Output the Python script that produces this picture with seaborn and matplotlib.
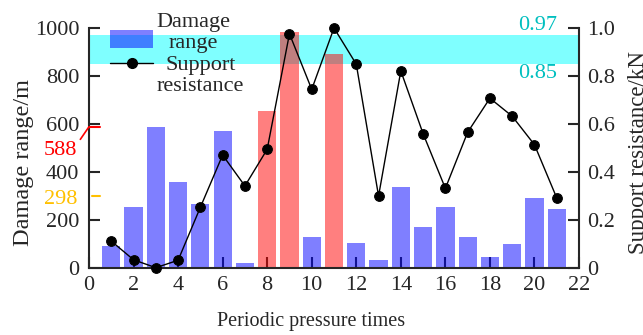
import glob
import matplotlib
matplotlib.use("Agg")
import matplotlib.pyplot as plt
from matplotlib import font_manager
import pandas as pd
import seaborn as sns
from matplotlib.patches import Patch, Rectangle
from matplotlib.lines import Line2D
from matplotlib.legend_handler import HandlerPatch, HandlerLine2D

# Periodic pressure events and the two measured series
times = list(range(1, 22))
damage_range = [90, 253, 588, 357, 267, 570, 20, 653, 982, 128, 891,
                103, 32, 336, 170, 253, 128, 45, 99, 291, 245]
support_resistance = [0.111, 0.033, 0.0, 0.031, 0.252, 0.470, 0.341, 0.494,
                      0.976, 0.744, 1.0, 0.849, 0.299, 0.821, 0.559, 0.331,
                      0.565, 0.707, 0.632, 0.513, 0.291]

# Reference levels
damage_limit = 588
damage_mark = 298
resist_band = [0.85, 0.97]

x_ticks = list(range(0, 23, 2))
left_ticks = [0, 200, 400, 600, 800, 1000]
right_ticks = [0, 0.2, 0.4, 0.6, 0.8, 1.0]
right_tick_labels = ["0", "0.2", "0.4", "0.6", "0.8", "1.0"]

# Make sure a Times-like serif face is registered
for path in glob.glob("/usr/share/fonts/**/LiberationSerif*.ttf", recursive=True):
    try:
        font_manager.fontManager.addfont(path)
    except Exception:
        pass
available = {f.name for f in font_manager.fontManager.ttflist}
serif = "Liberation Serif" if "Liberation Serif" in available else "DejaVu Serif"

sns.set_style("ticks")
plt.rcParams["font.family"] = [serif, "DejaVu Serif"]
FS = 16

fig, ax = plt.subplots(figsize=(6.43, 3.35), dpi=100)
fig.subplots_adjust(left=0.1384, right=0.9005, bottom=0.2009, top=0.9164)

left_max, right_max = 1000, 1.0
ratio = left_max / right_max

# Highlighted support-resistance band, drawn beneath the bars
ax.axhspan(resist_band[0] * ratio, resist_band[1] * ratio,
           color="cyan", alpha=0.5, lw=0, zorder=1)

df = pd.DataFrame({
    "time": times,
    "damage": damage_range,
    "level": ["high" if d > damage_limit else "normal" for d in damage_range],
})
sns.barplot(data=df, x="time", y="damage", hue="level",
            palette={"normal": "#0000FF", "high": "#FF0000"},
            saturation=1, alpha=0.5, native_scale=True, width=0.82,
            dodge=False, errorbar=None, legend=False, linewidth=0,
            zorder=2, ax=ax)

ax2 = ax.twinx()
sns.lineplot(x=times, y=support_resistance, ax=ax2, color="black",
             marker="o", markersize=7, markeredgecolor="black",
             linewidth=1.0, clip_on=False, zorder=3)

ax.set_xlim(0, 22)
ax.set_ylim(0, left_max)
ax2.set_ylim(0, right_max)
ax.set_xticks(x_ticks)
ax.set_xticklabels([str(t) for t in x_ticks])
ax.set_yticks(left_ticks)
ax.set_yticklabels([str(t) for t in left_ticks])
ax2.set_yticks(right_ticks)
ax2.set_yticklabels(right_tick_labels)

for a in (ax, ax2):
    a.spines["top"].set_visible(False)
ax.spines["right"].set_visible(False)
ax2.spines["left"].set_visible(False)
ax2.spines["bottom"].set_visible(False)
for s in ("left", "bottom"):
    ax.spines[s].set_linewidth(1.5)
ax2.spines["right"].set_linewidth(1.5)

ax.tick_params(axis="both", direction="in", length=8, width=1.5,
               labelsize=FS, top=False, right=False)
ax.tick_params(axis="y", pad=7)
ax.tick_params(axis="x", pad=6)
ax2.tick_params(axis="y", direction="in", length=8, width=1.5,
                labelsize=FS, pad=6)

ax.set_xlabel("Periodic pressure times", fontsize=14.5)
ax.xaxis.set_label_coords(0.453, -0.2265)
ax.xaxis.label.set_va("center")
ax.set_ylabel("Damage range/m", fontsize=17.5)
ax.yaxis.set_label_coords(-0.133, 0.44)
ax.yaxis.label.set_va("center")
ax2.set_ylabel("Support resistance/kN", fontsize=16.5)
ax2.yaxis.set_label_coords(1.122, 0.48)
ax2.yaxis.label.set_va("center")

# Damage range reference marks on the left axis
ax.axhline(damage_limit, xmin=0, xmax=0.022, color="red", lw=1.5, zorder=4)
ax.annotate(str(damage_limit), xy=(0, damage_limit), xytext=(-8.6, -17),
            textcoords="offset points", ha="right", va="center",
            color="red", fontsize=FS, annotation_clip=False,
            arrowprops=dict(arrowstyle="-", color="red", lw=1.2,
                            shrinkA=0, shrinkB=0, relpos=(0.95, 0.7)))
ax.axhline(damage_mark, xmin=0.006, xmax=0.022, color="#FFC000", lw=1.5,
           zorder=4)
ax.annotate(str(damage_mark), xy=(0, damage_mark), xytext=(-8.6, -2.3),
            textcoords="offset points", ha="right", va="center",
            color="#FFC000", fontsize=FS, annotation_clip=False)

# Band limits on the right axis
ax2.text(21.0, resist_band[1], f"{resist_band[1]:.2f}", ha="right",
         va="bottom", color="c", fontsize=FS)
ax2.text(21.0, resist_band[0], f"{resist_band[0]:.2f}", ha="right",
         va="top", color="c", fontsize=FS)


def lowered_patch(legend, orig_handle, xdescent, ydescent, width, height,
                  fontsize):
    # swatch sits beside the lower line of its two-line label
    return Rectangle(xy=(-xdescent, -ydescent - 0.32 * fontsize),
                     width=width, height=height)


class RaisedLine(HandlerLine2D):
    """Line handle aligned with the first line of a two-line label."""

    def create_artists(self, legend, orig_handle, xdescent, ydescent, width,
                       height, fontsize, trans):
        artists = super().create_artists(legend, orig_handle, xdescent,
                                         ydescent, width, height, fontsize,
                                         trans)
        for a in artists:
            a.set_ydata(a.get_ydata() + 0.55 * fontsize)
        return artists


handles = [Patch(facecolor="blue", alpha=0.5, edgecolor="none"),
           Line2D([], [], color="black", marker="o", markersize=7, lw=1.0)]
leg = ax2.legend(handles, ["Damage\nrange", "Support\nresistance"],
                 loc="upper left", bbox_to_anchor=(0.043, 1.064),
                 frameon=False, fontsize=FS, handlelength=1.95,
                 handleheight=0.85, handletextpad=0.15, labelspacing=0.15,
                 borderpad=0, borderaxespad=0,
                 handler_map={Patch: HandlerPatch(patch_func=lowered_patch),
                              Line2D: RaisedLine()})
for t in leg.get_texts():
    t.set_multialignment("center")
    t.set_linespacing(1.15)

fig.savefig("out.png", dpi=100)
